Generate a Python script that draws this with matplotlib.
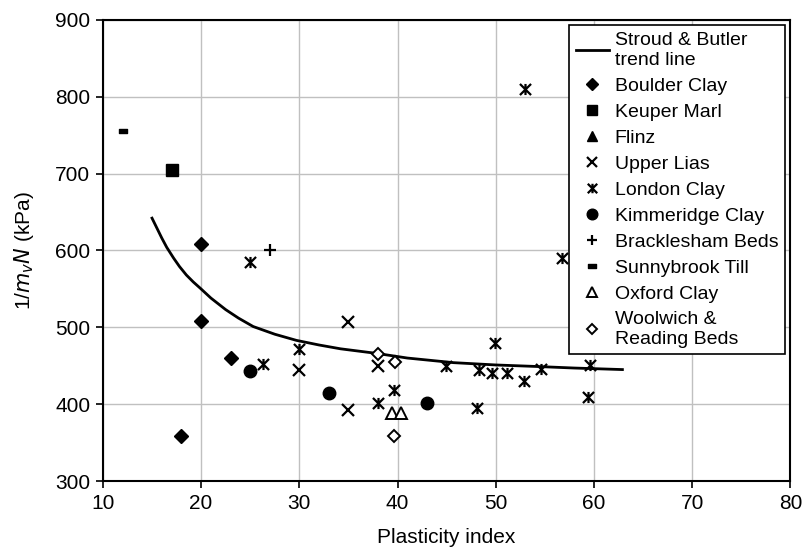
import numpy as np
import matplotlib.pyplot as plt
from matplotlib.path import Path

plt.rcParams['font.family'] = ['Liberation Sans', 'DejaVu Sans']

# ---------------------------------------------------------------------------
# Data
# ---------------------------------------------------------------------------

trend_pi  = [15.0, 15.5, 16.0, 16.5, 17.2, 17.8, 18.5, 19.2, 19.9, 21.0, 22.5,
             23.8, 25.3, 27.5, 29.7, 32.0, 34.2, 37.9, 41.0, 45.7, 50.0,
             54.2, 58.0, 62.9]
trend_val = [642, 629, 616, 604, 590, 579, 568, 559, 551, 538, 523,
             512, 501, 491, 483, 477, 472, 466, 460, 454, 451,
             449, 447, 445]

boulder_pi  = [20, 20, 23, 18]
boulder_val = [608, 508, 460, 358]

keuper_pi  = [17]
keuper_val = [705]

flinz_pi  = []
flinz_val = []

lias_pi  = [30, 35, 35, 38]
lias_val = [444, 507, 393, 450]

london_pi  = [25, 26.3, 30, 38, 39.6, 44.9, 48.3, 48.1, 49.6, 49.9, 51.1,
              52.9, 54.6, 59.6, 59.4, 56.7, 53]
london_val = [585, 452, 472, 401, 419, 450, 444, 395, 441, 480, 440,
              430, 446, 451, 409, 590, 810]

kimm_pi  = [25, 33, 43]
kimm_val = [443, 414, 402]

brack_pi  = [27]
brack_val = [600]

sunny_pi  = [12]
sunny_val = [755]

oxford_pi  = [39.4, 40.4]
oxford_val = [388, 388]

woolwich_pi  = [38, 39.7, 39.6]
woolwich_val = [465, 455, 358]

# Excel-style "star": an x with a vertical bar through it
star = Path([(-1, -1), (1, 1), (-1, 1), (1, -1), (0, -1), (0, 1)],
            [Path.MOVETO, Path.LINETO, Path.MOVETO, Path.LINETO,
             Path.MOVETO, Path.LINETO])
dash = Path([(-1, -0.55), (1, -0.55), (1, 0.55), (-1, 0.55), (-1, -0.55)],
            [Path.MOVETO, Path.LINETO, Path.LINETO, Path.LINETO, Path.CLOSEPOLY])

fig = plt.figure(figsize=(8.04, 5.51), dpi=100)
ax = fig.add_axes([0.128, 0.127, 0.855, 0.837])

ax.plot(trend_pi, trend_val, color='black', lw=2.0,
        label='Stroud & Butler\ntrend line', zorder=3)

series = [
    (boulder_pi,  boulder_val,  'D',  7,  'black', 'Boulder Clay',    1.0),
    (keuper_pi,   keuper_val,   's',  9,  'black', 'Keuper Marl',     1.0),
    (flinz_pi,    flinz_val,    '^',  8,  'black', 'Flinz',           1.0),
    (lias_pi,     lias_val,     'x',  8,  'black', 'Upper Lias',      1.6),
    (london_pi,   london_val,   star, 8,  'black', 'London Clay',     1.6),
    (kimm_pi,     kimm_val,     'o',  9,  'black', 'Kimmeridge Clay', 1.0),
    (brack_pi,    brack_val,    '+',  9,  'black', 'Bracklesham Beds', 1.6),
    (sunny_pi,    sunny_val,    dash, 6,  'black', 'Sunnybrook Till', 1.0),
    (oxford_pi,   oxford_val,   '^',  8,  'white', 'Oxford Clay',     1.4),
    (woolwich_pi, woolwich_val, 'D',  6,  'white', 'Woolwich &\nReading Beds', 1.4),
]

for xs, ys, mk, ms, fc, lab, mew in series:
    ax.plot(xs, ys, linestyle='none', marker=mk, markersize=ms,
            markerfacecolor=fc, markeredgecolor='black', markeredgewidth=mew,
            label=lab, zorder=4)

ax.set_xlim(10, 80)
ax.set_ylim(300, 900)
ax.set_xticks(np.arange(10, 81, 10))
ax.set_yticks(np.arange(300, 901, 100))
ax.grid(True, color='#c0c0c0', lw=1.0)
ax.set_axisbelow(True)

for sp in ax.spines.values():
    sp.set_color('black')
    sp.set_linewidth(1.5)

ax.tick_params(direction='out', length=5, width=1.2, labelsize=15, pad=4)
ax.set_xlabel('Plasticity index', fontsize=15, labelpad=11)
ax.set_ylabel(r'1/$m_v$$N$ (kPa)', fontsize=15, labelpad=14)

leg = ax.legend(loc='upper right', bbox_to_anchor=(0.995, 0.992),
                fontsize=14, frameon=True, fancybox=False,
                edgecolor='black', framealpha=1, labelspacing=0.43,
                handlelength=1.7, handletextpad=0.3, borderpad=0.35,
                borderaxespad=0.1, markerscale=0.85)
leg.get_frame().set_linewidth(1.2)

fig.savefig('out.png', dpi=100)
